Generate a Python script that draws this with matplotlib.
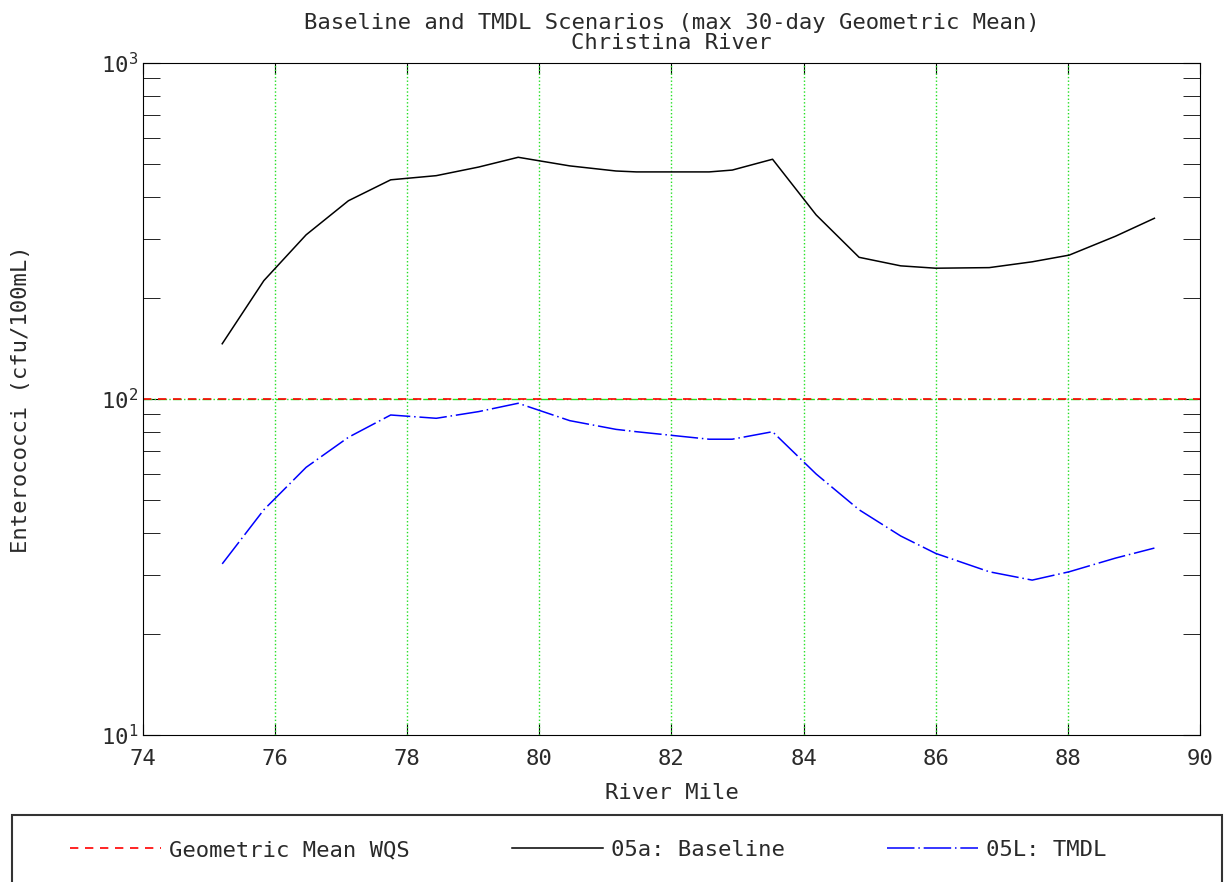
from matplotlib import pyplot as plt
from matplotlib.lines import Line2D
from matplotlib.patches import Rectangle
import numpy as np

# river mile stations and max 30-day geometric mean (cfu/100mL)
river_mile = [75.20, 75.83, 76.47, 77.11, 77.75, 78.44, 79.08, 79.68, 80.46,
              81.16, 81.47, 82.57, 82.92, 83.53, 84.19, 84.84, 85.47, 86.00,
              86.81, 87.46, 88.02, 88.72, 89.31]
baseline = [146, 225, 308, 389, 449, 462, 490, 524, 494,
            477, 474, 474, 480, 517, 353, 264, 249, 245,
            246, 256, 268, 305, 345]
tmdl = [32.3, 46.8, 62.6, 76.9, 89.6, 87.6, 91.7, 97.1, 86.2,
        81.2, 79.9, 75.9, 75.9, 79.9, 59.8, 46.8, 39.1, 34.7,
        30.6, 28.9, 30.6, 33.6, 36.0]
wqs = 100

x_ticks = [74, 76, 78, 80, 82, 84, 86, 88, 90]
labels = ['Geometric Mean WQS', '05a: Baseline', '05L: TMDL']

plt.rcParams['font.family'] = ['DejaVu Sans Mono']
fs = 16
txt = '#2a2a2a'
red_ls = (0, (5, 4))
blue_ls = (0, (18, 2.5, 1, 2.5))

fig = plt.figure(figsize=(12.28, 8.82), dpi=100)
ax = fig.add_axes([0.1164, 0.1667, 0.8608, 0.7619])

ax.set_yscale('log')
ax.set_xlim(74, 90)
ax.set_ylim(10, 1000)

# grid: green dotted verticals, dash-dot at the 10^2 decade
for xv in x_ticks[1:-1]:
    ax.axvline(xv, color='#22e022', linestyle=(0, (1, 1.6)), linewidth=1)
ax.axhline(100, color='#22e022', linestyle='-.', linewidth=1)

ax.axhline(wqs, color='red', linestyle=red_ls, linewidth=1.2)
ax.plot(river_mile, baseline, color='black', linewidth=1.1)
ax.plot(river_mile, tmdl, color='blue', linestyle=blue_ls, linewidth=1.1)

ax.set_xticks(x_ticks)
ax.tick_params(axis='both', which='both', direction='in', top=True,
               right=True, labelsize=fs, colors='black', labelcolor=txt)
ax.tick_params(axis='y', which='both', length=12)
ax.tick_params(axis='x', which='major', length=8, pad=10)

ax.set_title('Baseline and TMDL Scenarios (max 30-day Geometric Mean)\n'
             'Christina River', fontsize=fs, color=txt, pad=10,
             linespacing=1.0)
ax.set_xlabel('River Mile', fontsize=fs, color=txt, labelpad=10)
ax.set_ylabel('Enterococci (cfu/100mL)', fontsize=fs, color=txt,
              labelpad=50)

# legend box below the plot
fig.patches.append(Rectangle((12 / 1228, -0.02), 1210 / 1228, 0.096,
                             transform=fig.transFigure, fill=False,
                             edgecolor='#333333', linewidth=1.5))
handles = [Line2D([], [], color='red', linestyle=red_ls, linewidth=1.2),
           Line2D([], [], color='black', linewidth=1.1),
           Line2D([], [], color='blue', linestyle=blue_ls, linewidth=1.1)]
leg = fig.legend(handles, labels, loc='center left',
                 bbox_to_anchor=(70 / 1228, 1 - 850 / 882), ncol=3,
                 fontsize=fs, frameon=False, handlelength=4.1,
                 handletextpad=0.35, columnspacing=4.6, borderpad=0,
                 borderaxespad=0)
for t in leg.get_texts():
    t.set_color(txt)

fig.savefig('out.png', dpi=100)
